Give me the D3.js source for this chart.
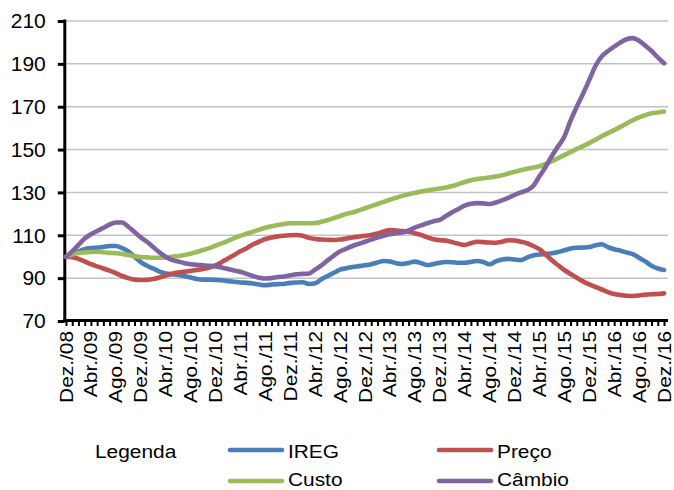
<!DOCTYPE html>
<html>
<head>
<meta charset="utf-8">
<script src="https://cdn.jsdelivr.net/npm/d3@7"></script>
<style>
  html, body { margin: 0; padding: 0; background: #fff; }
  svg { display: block; font-family: "Liberation Sans", Arial, sans-serif; }
</style>
</head>
<body>
<svg id="chart" width="674" height="490"></svg>
<script>
const months = [
  "Dez./08",
  "Jan./09","Fev./09","Mar./09","Abr./09","Mai./09","Jun./09","Jul./09","Ago./09","Set./09","Out./09","Nov./09","Dez./09",
  "Jan./10","Fev./10","Mar./10","Abr./10","Mai./10","Jun./10","Jul./10","Ago./10","Set./10","Out./10","Nov./10","Dez./10",
  "Jan./11","Fev./11","Mar./11","Abr./11","Mai./11","Jun./11","Jul./11","Ago./11","Set./11","Out./11","Nov./11","Dez./11",
  "Jan./12","Fev./12","Mar./12","Abr./12","Mai./12","Jun./12","Jul./12","Ago./12","Set./12","Out./12","Nov./12","Dez./12",
  "Jan./13","Fev./13","Mar./13","Abr./13","Mai./13","Jun./13","Jul./13","Ago./13","Set./13","Out./13","Nov./13","Dez./13",
  "Jan./14","Fev./14","Mar./14","Abr./14","Mai./14","Jun./14","Jul./14","Ago./14","Set./14","Out./14","Nov./14","Dez./14",
  "Jan./15","Fev./15","Mar./15","Abr./15","Mai./15","Jun./15","Jul./15","Ago./15","Set./15","Out./15","Nov./15","Dez./15",
  "Jan./16","Fev./16","Mar./16","Abr./16","Mai./16","Jun./16","Jul./16","Ago./16","Set./16","Out./16","Nov./16","Dez./16"
];
const shownLabels = ["Dez./08","Abr./09","Ago./09","Dez./09","Abr./10","Ago./10","Dez./10","Abr./11","Ago./11","Dez./11",
  "Abr./12","Ago./12","Dez./12","Abr./13","Ago./13","Dez./13","Abr./14","Ago./14","Dez./14","Abr./15","Ago./15","Dez./15",
  "Abr./16","Ago./16","Dez./16"];
const yTicks = [70, 90, 110, 130, 150, 170, 190, 210];

const ireg = [100,
  101.5,102.5,103.5,104,104.2,104.5,105,105,104,102.5,100,97.5,
  95.8,94.5,93,92.2,91.8,91.5,91,90.3,89.6,89.3,89.3,89.2,
  89,88.6,88.3,88,87.8,87.5,87,86.7,87,87.2,87.3,87.8,
  88,88.1,87.3,87.6,89.5,91,92.5,94,94.6,95.2,95.6,96,
  96.5,97.3,98,97.8,97,96.6,97.1,97.7,97,96.1,96.6,97.2,
  97.5,97.4,97.2,97.2,97.6,98,97.5,96.5,97.8,98.7,99,98.7,
  98.4,99.6,100.6,101,101.3,101.6,102.2,103,103.8,104.2,104.3,104.5,
  105.3,105.8,104.5,103.5,102.8,102,101.2,99.5,97.8,95.8,94.5,93.8];
const preco = [100,
  99.8,99,97.8,96.5,95.5,94.5,93.5,92.3,91,90,89.3,89.1,
  89.2,89.6,90.3,91.2,92,92.6,93,93.4,93.8,94.3,95,96,
  97.5,99.2,100.8,102.5,104,105.7,107,108.3,109,109.5,109.8,110,
  110.1,109.8,108.8,108.3,108,107.9,107.8,108,108.5,109,109.4,109.8,
  110.1,110.8,111.8,112.4,112.2,112,111.6,111,110.2,109,108.2,107.7,
  107.5,106.8,106,105.5,106.3,107,106.8,106.6,106.5,107,107.7,107.6,
  107,106.3,105,103.5,101,98.3,96,93.8,91.9,90.2,88.5,87.1,
  85.9,84.7,83.5,82.6,82.1,81.8,81.7,81.9,82.3,82.5,82.6,82.9];
const custo = [100,
  101,101.7,102,102.2,102.3,102.1,101.8,101.6,101.3,100.8,100.2,99.9,
  99.7,99.5,99.5,99.7,100,100.3,100.8,101.4,102.2,103.1,104,105.2,
  106.2,107.4,108.7,109.8,110.7,111.7,112.6,113.5,114.2,114.8,115.3,115.6,
  115.6,115.6,115.6,115.7,116.3,117,118,119,120,120.6,121.6,122.6,
  123.6,124.6,125.6,126.6,127.5,128.4,129.2,129.8,130.4,130.9,131.4,131.8,
  132.3,133,133.9,134.9,135.7,136.2,136.6,137,137.4,138,138.8,139.6,
  140.4,141,141.6,142.2,143.3,144.6,146,147.4,148.8,150.3,151.6,153,
  154.6,156.2,157.7,159.1,160.6,162.2,163.7,165,166.1,166.9,167.3,167.7];
const cambio = [100,
  102.5,105.5,108.5,110.5,112,113.5,115,116,116,114,111.5,109,
  107,104.5,102,100,98.5,97.8,97,96.5,96.2,96,95.8,95.5,
  95,94.3,93.6,93,92,91,90.2,89.8,90,90.5,90.8,91.3,
  91.8,92,92.2,94,96,98.3,100.5,102.5,103.8,105,106,107,
  108,109,109.8,110.5,111,111.3,112.3,113.6,114.6,115.6,116.5,117.2,
  119,120.8,122.3,123.8,124.7,125,124.9,124.6,125.3,126.3,127.5,128.8,
  130,131,133,137.5,142,147,151.5,156,163.5,170,176,182.5,
  189,193.5,196,198,200,201.5,202,200.8,198.5,196,193,190.3];

const seriesNames = ["IREG", "Preço", "Custo", "Câmbio"];
const seriesColors = ["#4a7ebb", "#c0504d", "#9bbb59", "#8064a2"];
const seriesValues = [ireg, preco, custo, cambio];

const svg = d3.select("#chart");
const x = d3.scalePoint().domain(months).range([66, 664]);
const y = d3.scaleLinear().domain([70, 210]).range([321, 21]);

// gridlines
svg.append("g").selectAll("line").data(yTicks.filter(d => d > 70)).join("line")
  .attr("x1", 66).attr("x2", 668)
  .attr("y1", d => y(d)).attr("y2", d => y(d))
  .attr("stroke", "#c3c3c3").attr("stroke-width", 1.5);

// y axis
const yAxis = svg.append("g").attr("transform", "translate(64.8,0)")
  .call(d3.axisLeft(y).tickValues(yTicks).tickSize(7).tickSizeOuter(0).tickPadding(12));
yAxis.select(".domain").remove();
yAxis.selectAll(".tick line").attr("stroke", "#000").attr("stroke-width", 3);
yAxis.selectAll(".tick text").attr("font-size", 21).attr("fill", "#000")
  .attr("font-family", "'Liberation Sans', Arial, sans-serif");

// x axis
const xAxis = svg.append("g").attr("transform", "translate(0,321)")
  .call(d3.axisBottom(x).tickSize(5).tickSizeOuter(0)
    .tickFormat(d => shownLabels.includes(d) ? d : ""));
xAxis.select(".domain").remove();
xAxis.selectAll(".tick line").attr("stroke", "#000").attr("stroke-width", 2);
xAxis.selectAll(".tick text")
  .attr("font-size", 18).attr("fill", "#000")
  .attr("font-family", "'Liberation Sans', Arial, sans-serif")
  .attr("text-anchor", "end")
  .attr("x", 0).attr("y", 0).attr("dy", 0)
  .attr("transform", "translate(6,10) rotate(-90) scale(1.16,1)");

// axis lines
svg.append("line").attr("x1", 63.3).attr("x2", 668).attr("y1", 320.5).attr("y2", 320.5)
  .attr("stroke", "#000").attr("stroke-width", 3);
svg.append("line").attr("x1", 64.8).attr("x2", 64.8).attr("y1", 19.5).attr("y2", 322)
  .attr("stroke", "#000").attr("stroke-width", 3);

// series
const line = d3.line().x((d, i) => x(months[i])).y(d => y(d)).curve(d3.curveMonotoneX);
svg.append("g").selectAll("path").data(seriesValues).join("path")
  .attr("d", d => line(d))
  .attr("fill", "none")
  .attr("stroke", (d, i) => seriesColors[i])
  .attr("stroke-width", 4.6)
  .attr("stroke-linejoin", "round")
  .attr("stroke-linecap", "round");

// legend
const legend = svg.append("g");
legend.append("text").attr("x", 95).attr("y", 458).attr("font-size", 18)
  .attr("transform", "translate(95,0) scale(1.16,1) translate(-95,0)")
  .text("Legenda");
const legPos = [[228, 450, 458], [437, 450, 458], [228, 481, 486], [437, 481, 486]];
seriesNames.forEach((name, i) => {
  const [lx, ly, ty] = legPos[i];
  legend.append("line").attr("x1", lx + 2).attr("x2", lx + 54).attr("y1", ly).attr("y2", ly)
    .attr("stroke", seriesColors[i]).attr("stroke-width", 4.6).attr("stroke-linecap", "round");
  const tx = lx + 60;
  legend.append("text").attr("x", tx).attr("y", ty).attr("font-size", 18)
    .attr("transform", `translate(${tx},0) scale(1.16,1) translate(${-tx},0)`)
    .text(name);
});
</script>
</body>
</html>
